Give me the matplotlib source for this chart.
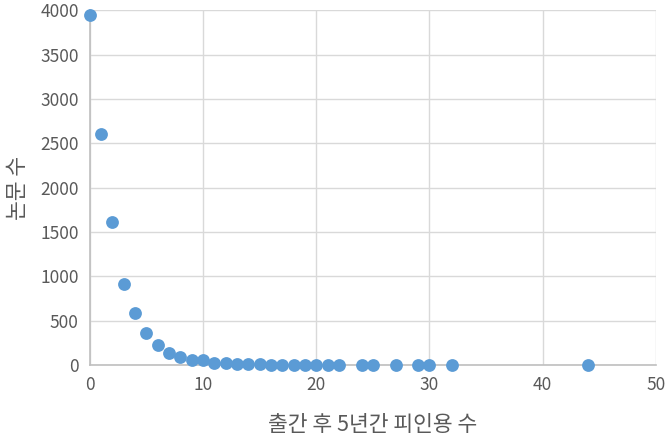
import matplotlib
matplotlib.use("Agg")
import matplotlib.pyplot as plt

plt.rcParams['font.family'] = ['Noto Sans CJK KR', 'DejaVu Sans']

# citations within 5 years vs number of papers
citations = [0, 1, 2, 3, 4, 5, 6, 7, 8, 9, 10, 11, 12, 13, 14, 15, 16, 17,
             18, 19, 20, 21, 22, 24, 25, 27, 29, 30, 32, 44]
papers = [3945, 2605, 1610, 918, 586, 368, 228, 140, 92, 58, 55, 25, 25, 18,
          15, 8, 5, 5, 5, 4, 4, 4, 3, 3, 1, 2, 0, 1, 0, 0]

fig = plt.figure(figsize=(6.7, 4.4), dpi=100)
ax = fig.add_axes([0.134, 0.170, 0.845, 0.807])

ax.scatter(citations, papers, s=85, color='#5B9BD5', zorder=3, clip_on=False,
           linewidths=0)

ax.set_xlim(0, 50)
ax.set_ylim(0, 4000)
ax.set_xticks(range(0, 51, 10))
ax.set_yticks(range(0, 4001, 500))
ax.grid(True, color='#D9D9D9', linewidth=1)
ax.set_axisbelow(True)

for s in ['top', 'right']:
    ax.spines[s].set_visible(False)
for s in ['left', 'bottom']:
    ax.spines[s].set_color('#BFBFBF')
    ax.spines[s].set_linewidth(1.2)

ax.tick_params(length=0, colors='#595959', labelsize=12.5, pad=8)
ax.set_xlabel('출간 후 5년간 피인용 수', fontsize=15.5, color='#595959', labelpad=14)
ax.set_ylabel('논문 수', fontsize=15.5, color='#595959', labelpad=8)

fig.savefig('out.png', dpi=100)
